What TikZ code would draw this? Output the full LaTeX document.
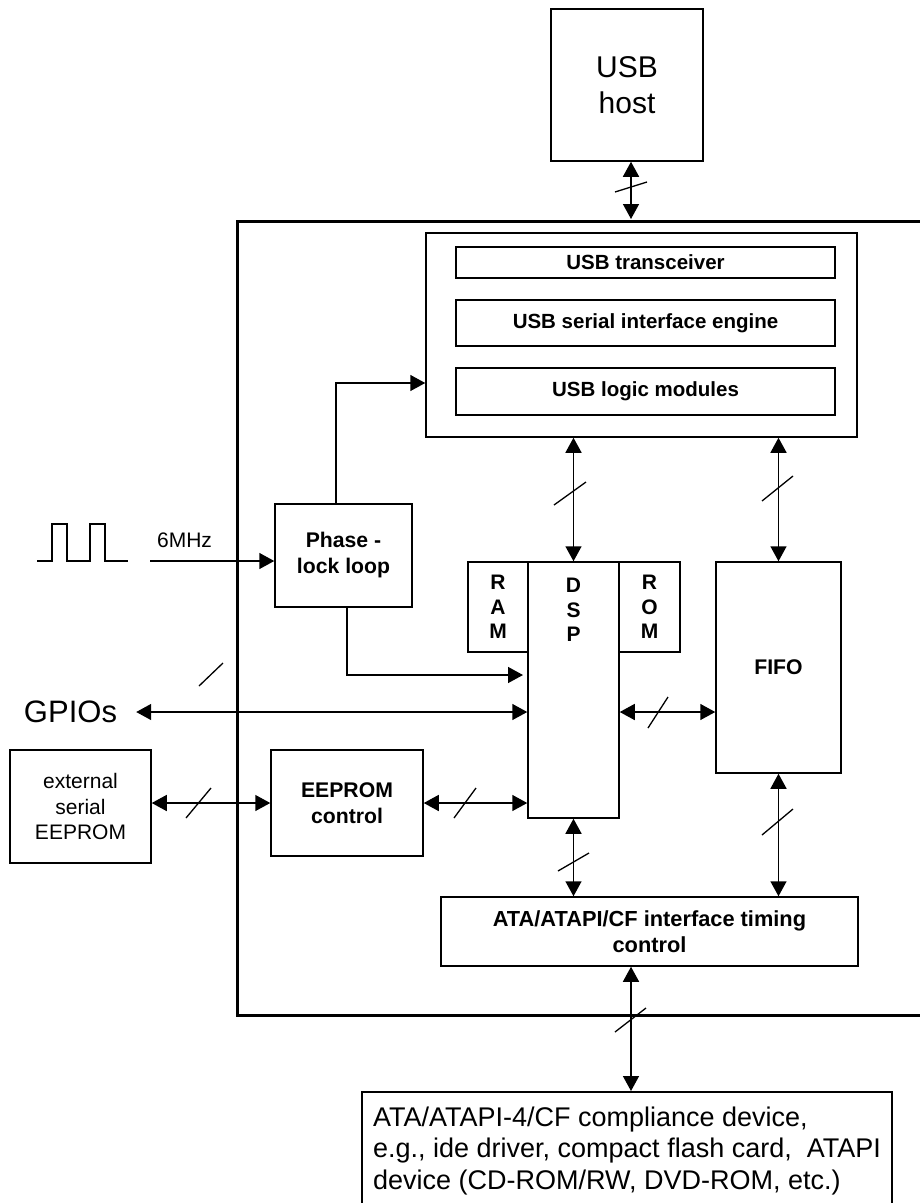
\documentclass[tikz,border=0pt]{standalone}
\usepackage{fontspec}
\setmainfont{Liberation Sans}
\usetikzlibrary{arrows.meta}
\begin{document}
\begin{tikzpicture}[x=1pt,y=-1pt,
  box/.style={draw,line width=1.5pt,inner sep=0pt,align=center},
  bl/.style={font=\fontsize{21.2}{26}\selectfont\bfseries},
  ul/.style={font=\fontsize{20.5}{26}\selectfont\bfseries},
  lt/.style={font=\fontsize{21}{24.5}\selectfont\bfseries},
  nl/.style={font=\fontsize{21}{25.5}\selectfont},
  conn/.style={line width=1.5pt},
  dbl/.style={conn,{Triangle[length=15pt,width=16pt]}-{Triangle[length=15pt,width=16pt]}},
  one/.style={conn,-{Triangle[length=15pt,width=16pt]}},
  slash/.style={line width=1.3pt},
  frame/.style={line width=3pt}]
\useasboundingbox (0,0) rectangle (920,1203);

% outer chip frame (open on the right, cut by the page edge)
\coordinate (fTL) at (237,221.5);
\coordinate (fBL) at (237,1015);
\draw[frame] (925,221.5) -- (fTL) -- (fBL) -- (925,1015);

% nodes
\node[box,minimum width=152pt,minimum height=152pt,font=\fontsize{30}{36}\selectfont] (host) at (627,85) {USB\\host};
\node[box,minimum width=431pt,minimum height=204pt] (usb) at (641.5,335) {};
\node[box,ul,minimum width=379pt,minimum height=31pt] (trx) at (645.5,262.5) {USB transceiver};
\node[box,ul,minimum width=379pt,minimum height=46pt] (sie) at (645.5,323) {USB serial interface engine};
\node[box,ul,minimum width=379pt,minimum height=47pt] (logic) at (645.5,391.5) {USB logic modules};
\node[box,bl,minimum width=137pt,minimum height=103pt] (pll) at (343.5,555.5) {Phase -\\lock loop};
\node[box,minimum width=91pt,minimum height=256pt] (dsp) at (573.5,690) {};
\node[lt,align=center,inner sep=0pt] (dsptxt) at (573.5,610) {D\\S\\P};
\node[box,lt,minimum width=60pt,minimum height=90pt] (ram) at (498,607) {R\\A\\M};
\node[box,lt,minimum width=61pt,minimum height=90pt] (rom) at (649.5,607) {R\\O\\M};
\node[box,bl,minimum width=125pt,minimum height=211pt] (fifo) at (778.5,667.5) {FIFO};
\node[box,nl,minimum width=141pt,minimum height=113pt] (ext) at (80.5,806.5) {external\\serial\\EEPROM};
\node[box,bl,minimum width=152pt,minimum height=106pt] (eepc) at (347,803) {EEPROM\\control};
\node[box,font=\fontsize{21.8}{26}\selectfont\bfseries,minimum width=417pt,minimum height=69pt] (ata) at (649.5,931.5) {ATA/ATAPI/CF interface timing\\control};
\node[font=\fontsize{31}{36}\selectfont,inner sep=0pt] (gpio) at (70.5,712) {GPIOs};
\node[nl,inner sep=0pt] (mhz) at (184.5,540) {6MHz};
\node[draw,line width=1.5pt,anchor=north,minimum width=530pt,align=left,inner xsep=0pt,inner ysep=15pt,
      font=\fontsize{27}{31.5}\selectfont] (dev) at (627,1091)
  {ATA/ATAPI-4/CF compliance device,\\e.g., ide driver, compact flash card,\ \ ATAPI\\device (CD-ROM/RW, DVD-ROM, etc.)};

% clock waveform
\draw[conn] (37,561) -- (52,561) -- (52,524) -- (67,524) -- (67,561) -- (90,561)
  -- (90,524) -- (105,524) -- (105,561) -- (128,561);

% connectors
\coordinate (hostend) at (631,219);
\draw[dbl] (host.south -| hostend) -- (hostend);
\draw[dbl] (usb.south -| dsp.north) -- (dsp.north);
\draw[dbl] (usb.south -| fifo.north) -- (fifo.north);
\coordinate (df) at (0,712);
\draw[dbl] (dsp.east |- df) -- (fifo.west |- df);
\draw[dbl] ([xshift=19pt]gpio.east) -- (dsp.west |- gpio.east);
\draw[dbl] (ext.east |- eepc.west) -- (eepc.west);
\draw[dbl] (eepc.east) -- (dsp.west |- eepc.east);
\coordinate (clkin) at (150,561);
\draw[one] (clkin) -- (clkin -| pll.west);
\coordinate (pllup) at (336,383);
\draw[one] (pllup |- pll.north) -- (pllup) -- (pllup -| usb.west);
\coordinate (plldn) at (347,675);
\coordinate (plltip) at (523,675);
\draw[one] (plldn |- pll.south) -- (plldn) -- (plltip);
\draw[dbl] (dsp.south) -- (dsp.south |- ata.north);
\draw[dbl] (fifo.south) -- (fifo.south |- ata.north);
\draw[dbl] (ata.south -| hostend) -- (dev.north -| hostend);

% bus slashes
\draw[slash] (615,192) -- (647,182);
\draw[slash] (554,505) -- (586,482);
\draw[slash] (762,501) -- (793,476);
\draw[slash] (199,686) -- (223,663);
\draw[slash] (186,818) -- (211,788);
\draw[slash] (454,818) -- (476,788);
\draw[slash] (648,728) -- (668,697);
\draw[slash] (762,835) -- (793,809);
\draw[slash] (558,871) -- (589,853);
\draw[slash] (615,1032) -- (646,1008);
\end{tikzpicture}
\end{document}
